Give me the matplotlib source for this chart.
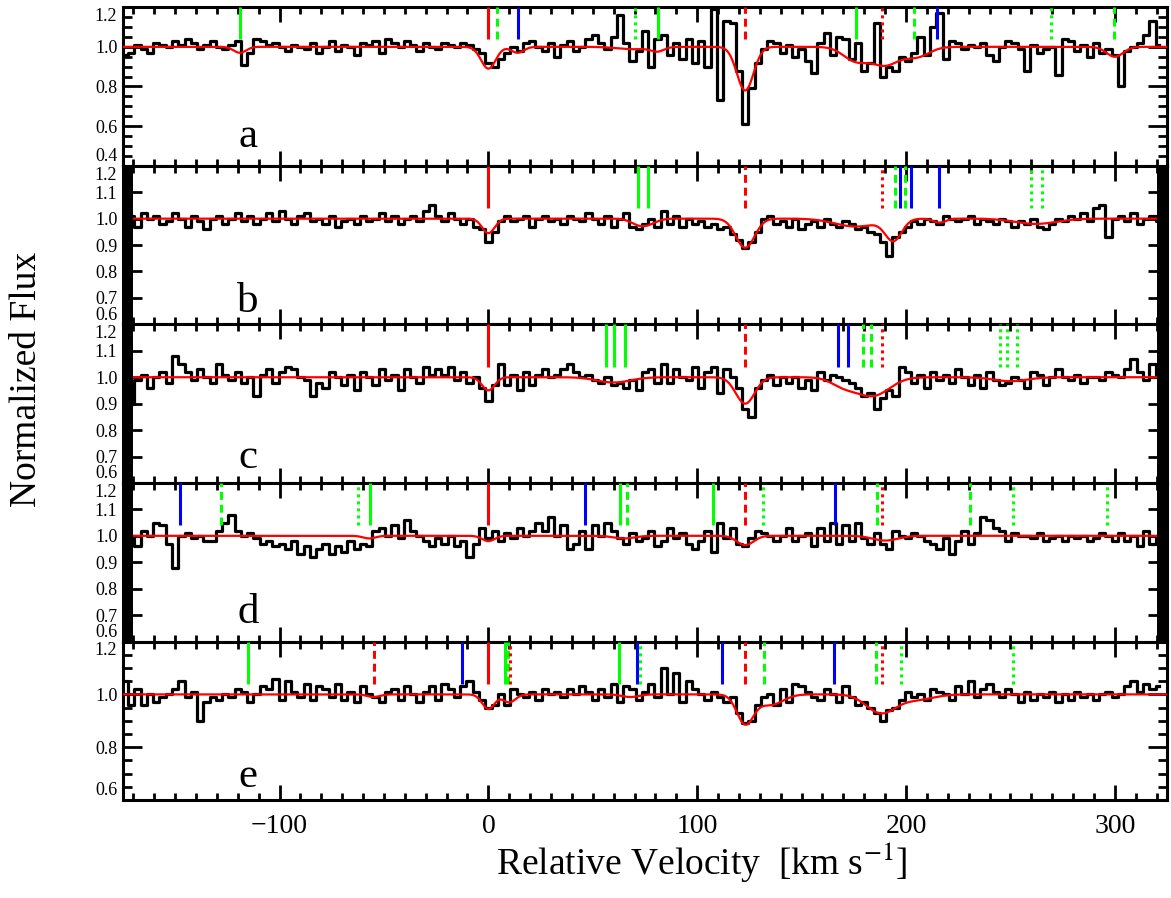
import numpy
from matplotlib import pyplot
from matplotlib.patches import Rectangle
from matplotlib.ticker import MultipleLocator
from matplotlib.transforms import ScaledTranslation


pyplot.rcParams['font.family'] = ['Liberation Serif', 'DejaVu Serif']
pyplot.rcParams['mathtext.fontset'] = 'stix'

# velocity grid of the spectra (km/s), one flux value per pixel
vel_start = -174.0
vel_step = 3.0

flux_a = [
    0.96, 0.97, 1.01, 0.99, 0.97, 1.02, 1.01, 1.00, 1.03, 1.01,
    1.04, 1.02, 0.99, 1.01, 1.03, 1.00, 0.99, 1.01, 1.03, 0.91,
    0.97, 1.04, 1.03, 1.01, 1.02, 1.00, 0.98, 1.01, 1.00, 0.99,
    1.02, 0.97, 1.00, 1.03, 0.98, 1.01, 1.00, 0.96, 1.02, 1.01,
    1.03, 0.97, 1.04, 1.02, 1.00, 1.03, 1.01, 0.98, 1.02, 1.00,
    0.99, 1.02, 1.01, 1.00, 1.02, 1.01, 0.99, 0.97, 0.92, 0.90,
    0.94, 0.97, 1.00, 0.98, 1.02, 1.03, 1.00, 0.98, 1.02, 0.95,
    1.01, 1.03, 0.98, 1.00, 1.04, 1.06, 1.02, 0.99, 1.05, 1.16,
    1.02, 0.93, 0.98, 1.08, 0.90, 1.04, 1.06, 0.96, 1.02, 0.94,
    1.04, 0.92, 1.03, 0.90, 1.19, 0.73, 1.13, 1.12, 0.88, 0.61,
    0.79, 0.92, 0.99, 1.03, 1.02, 0.97, 1.01, 0.95, 0.99, 0.93,
    0.87, 1.02, 1.07, 0.96, 1.05, 1.04, 0.94, 1.02, 0.88, 0.92,
    1.12, 0.85, 0.90, 0.88, 0.95, 0.93, 0.97, 1.05, 0.96, 1.10,
    1.17, 0.94, 1.03, 1.02, 0.99, 1.01, 1.00, 1.02, 0.96, 0.93,
    1.00, 1.03, 1.02, 0.99, 0.88, 1.01, 0.97, 0.99, 1.00, 0.86,
    1.04, 1.03, 0.98, 1.01, 0.95, 1.02, 0.97, 0.99, 0.96, 0.80,
    0.98, 1.00, 1.02, 1.06, 1.13, 1.01,
]

flux_b = [
    0.99, 1.01, 0.97, 1.02, 1.00, 1.01, 0.98, 0.99, 1.02, 1.00,
    0.97, 1.01, 0.99, 0.96, 1.00, 1.01, 0.98, 1.00, 1.02, 0.99,
    1.01, 0.98, 1.00, 1.02, 0.99, 1.03, 1.00, 0.98, 1.01, 1.02,
    0.99, 1.00, 0.98, 1.01, 0.97, 0.99, 1.00, 0.98, 1.01, 0.99,
    1.00, 1.02, 0.99, 1.01, 0.98, 1.00, 1.01, 0.99, 1.03, 1.05,
    1.01, 0.99, 1.02, 1.00, 0.98, 1.00, 0.97, 0.96, 0.91, 0.95,
    0.99, 1.01, 0.99, 1.00, 1.01, 0.97, 1.00, 1.01, 0.99, 1.00,
    0.98, 1.01, 1.00, 0.99, 1.02, 1.00, 0.98, 1.01, 0.97, 1.00,
    1.02, 0.97, 0.96, 0.98, 1.00, 0.97, 1.03, 0.98, 1.01, 0.97,
    1.00, 0.98, 0.99, 0.97, 0.98, 0.96, 0.97, 0.94, 0.92, 0.89,
    0.91, 0.95, 1.00, 1.01, 0.98, 0.99, 0.97, 1.00, 0.96, 0.98,
    0.99, 0.97, 1.00, 0.98, 0.97, 0.99, 0.98, 0.96, 0.97, 0.95,
    0.94, 0.91, 0.86, 0.93, 0.95, 0.97, 0.99, 0.98, 1.00, 0.99,
    0.98, 1.01, 1.00, 0.99, 1.00, 1.01, 0.98, 1.00, 0.99, 0.98,
    1.00, 0.99, 0.97, 0.99, 0.98, 1.00, 0.97, 0.96, 0.98, 1.00,
    0.99, 1.01, 1.00, 1.02, 0.99, 1.04, 1.05, 0.93, 1.00, 1.01,
    0.99, 1.02, 0.98, 1.00, 1.01, 0.99,
]

flux_c = [
    1.06, 0.90, 0.99, 1.01, 0.96, 1.00, 1.02, 0.98, 1.08, 1.05,
    1.02, 0.99, 1.03, 1.00, 0.98, 1.05, 1.01, 0.99, 1.02, 0.98,
    1.00, 0.93, 1.01, 1.03, 0.98, 1.02, 1.04, 1.03, 1.00, 0.99,
    0.93, 0.98, 0.96, 1.02, 1.00, 0.97, 1.01, 0.95, 1.02, 1.00,
    0.97, 1.03, 0.99, 1.01, 0.95, 1.03, 1.00, 0.98, 1.04, 1.01,
    1.03, 1.01, 1.04, 0.99, 1.02, 0.98, 1.00, 0.96, 0.91, 0.97,
    1.05, 0.97, 1.01, 0.95, 1.02, 0.97, 1.01, 1.03, 1.00, 1.01,
    1.03, 1.05, 1.02, 1.00, 1.01, 0.99, 0.98, 1.00, 0.97, 0.98,
    0.96, 0.99, 0.95, 1.02, 1.03, 0.98, 1.05, 0.98, 1.03, 1.00,
    0.99, 1.04, 0.96, 1.02, 1.04, 0.94, 1.03, 1.00, 0.96, 0.88,
    0.85, 0.96, 0.99, 1.01, 0.97, 1.00, 0.98, 1.00, 0.96, 0.99,
    0.95, 1.02, 0.99, 1.01, 1.00, 0.99, 0.98, 0.96, 0.93, 0.94,
    0.88, 0.92, 0.95, 0.93, 1.04, 1.02, 0.98, 1.01, 0.96, 1.02,
    0.99, 1.01, 0.98, 1.03, 1.00, 0.97, 1.01, 0.96, 1.02, 0.99,
    0.97, 0.98, 1.00, 0.99, 0.96, 1.02, 1.01, 0.97, 1.00, 1.03,
    1.00, 0.99, 1.01, 0.98, 1.00, 1.00, 0.99, 1.02, 1.01, 1.00,
    1.03, 1.07, 1.02, 0.99, 1.05, 1.00,
]

flux_d = [
    0.98, 1.00, 0.96, 1.02, 1.00, 1.05, 1.04, 0.97, 0.88, 1.00,
    1.01, 0.99, 1.00, 0.98, 0.98, 1.02, 1.05, 1.08, 1.02, 1.00,
    1.01, 0.99, 0.97, 0.98, 0.96, 0.97, 0.95, 0.98, 0.93, 0.96,
    0.92, 0.95, 0.97, 0.93, 0.96, 0.94, 0.98, 0.95, 0.97, 0.96,
    1.02, 1.03, 1.00, 1.04, 0.99, 1.06, 1.02, 1.00, 0.98, 0.96,
    0.99, 0.97, 1.00, 0.96, 0.98, 0.92, 0.97, 1.03, 0.99, 1.02,
    0.98, 1.01, 0.99, 1.03, 1.00, 1.02, 1.05, 1.02, 1.07, 1.00,
    1.04, 0.95, 0.97, 1.02, 0.95, 1.04, 1.00, 1.05, 1.02, 0.99,
    0.97, 1.01, 0.98, 0.99, 1.02, 0.96, 0.98, 1.03, 0.99, 1.01,
    0.97, 0.95, 0.98, 1.02, 0.94, 1.05, 0.99, 1.03, 0.97, 0.96,
    0.99, 1.02, 1.01, 1.00, 0.98, 1.00, 1.03, 0.98, 1.00, 1.01,
    0.96, 1.03, 0.98, 1.05, 0.97, 1.04, 0.98, 1.05, 0.99, 0.97,
    1.01, 0.97, 0.95, 1.02, 1.00, 0.99, 1.01, 1.00, 0.98, 0.97,
    0.95, 0.99, 0.93, 0.98, 1.02, 0.97, 1.01, 1.07, 1.06, 1.03,
    1.02, 0.98, 1.01, 1.00, 1.00, 0.99, 1.01, 0.98, 0.99, 1.00,
    0.98, 1.00, 0.99, 1.00, 0.98, 0.99, 1.01, 1.00, 0.98, 1.01,
    0.98, 1.00, 0.96, 1.02, 0.97, 1.00,
]

flux_e = [
    1.05, 0.96, 1.02, 0.96, 1.00, 0.97, 0.99, 1.00, 1.02, 1.05,
    0.99, 1.01, 0.90, 0.97, 0.99, 0.98, 1.00, 0.99, 1.02, 1.01,
    0.97, 1.00, 1.03, 1.02, 1.06, 0.98, 1.05, 1.01, 0.99, 1.04,
    0.98, 1.03, 1.02, 0.99, 1.04, 0.98, 1.01, 0.97, 1.03, 1.00,
    0.99, 0.97, 1.01, 1.02, 0.98, 1.03, 1.00, 0.97, 1.01, 1.03,
    0.98, 1.04, 1.02, 0.99, 1.03, 1.05, 1.01, 0.98, 0.95, 0.96,
    1.00, 0.96, 1.02, 1.00, 0.99, 1.01, 0.98, 1.02, 1.00, 1.01,
    0.99, 1.02, 1.00, 1.03, 1.01, 0.98, 1.02, 0.99, 1.04, 0.97,
    1.03, 1.02, 0.98, 1.01, 1.04, 0.99, 1.10, 1.00, 1.08, 0.97,
    1.05, 1.02, 1.00, 0.98, 1.01, 0.99, 0.97, 0.99, 0.93, 0.89,
    0.90, 0.96, 0.99, 1.00, 0.96, 1.02, 0.97, 1.04, 1.03, 1.01,
    0.99, 0.98, 1.02, 1.00, 0.97, 1.03, 0.99, 0.96, 0.97, 0.95,
    0.93, 0.90, 0.94, 0.95, 0.98, 1.01, 0.99, 1.00, 0.98, 1.02,
    1.01, 1.00, 0.98, 1.03, 1.00, 1.05, 0.99, 1.02, 1.04, 1.01,
    0.99, 1.02, 1.00, 0.97, 1.01, 0.98, 1.00, 0.99, 1.01, 0.97,
    1.00, 0.98, 1.01, 0.99, 1.00, 0.98, 1.00, 1.01, 0.99, 1.00,
    1.03, 1.05, 1.01, 1.04, 1.02, 1.03,
]

# fitted absorption components: (velocity, depth, width) in km/s
comps_a = [(-119, 0.03, 3), (0, 0.11, 3.5), (14, 0.03, 3), (70, 0.012, 8),
           (81, 0.02, 3), (123, 0.22, 4), (176, 0.07, 6), (190, 0.09, 6.5),
           (205, 0.05, 6), (300, 0.05, 4)]
comps_b = [(0, 0.055, 3), (72, 0.02, 4), (77, 0.015, 4), (123, 0.11, 4.5),
           (176, 0.03, 10), (194, 0.08, 4), (216, 0.015, 3), (262, 0.02, 10)]
comps_c = [(0, 0.05, 3), (60, 0.02, 8), (123, 0.10, 4.5), (170, 0.03, 6),
           (184, 0.07, 8), (250, 0.015, 8)]
comps_d = [(-57, 0.01, 3), (0, 0.02, 3), (65, 0.01, 5), (123, 0.035, 4),
           (190, 0.018, 6)]
comps_e = [(-55, 0.01, 3), (0, 0.055, 3), (10, 0.03, 3), (68, 0.01, 4),
           (123, 0.11, 4), (135, 0.04, 6), (188, 0.07, 7), (205, 0.02, 8)]

# line identification marks: (velocity, colour, style)
marks_a = [(-119, 'g', '-'), (0, 'r', '-'), (4, 'g', '--'), (14, 'b', '-'),
           (70, 'g', ':'), (81, 'g', '-'), (123, 'r', '--'), (176, 'g', '-'),
           (188.6, 'r', ':'), (204, 'g', '--'), (214.8, 'b', '-'),
           (269.5, 'g', ':'), (299.4, 'g', '--')]
marks_b = [(0, 'r', '-'), (71.6, 'g', '-'), (76.3, 'g', '-'), (123, 'r', '--'),
           (188.6, 'r', ':'), (194.6, 'g', '--'), (197, 'b', '-'),
           (199.7, 'g', '--'), (202.2, 'b', '-'), (216, 'b', '-'),
           (260, 'g', ':'), (264.9, 'g', ':')]
marks_c = [(0, 'r', '-'), (56.5, 'g', '-'), (60.2, 'g', '-'), (65.5, 'g', '-'),
           (123, 'r', '--'), (167.3, 'b', '-'), (172.1, 'b', '-'),
           (179.5, 'g', '--'), (183, 'g', '--'), (188.6, 'r', ':'),
           (244.9, 'g', ':'), (248.6, 'g', ':'), (253.3, 'g', ':')]
marks_d = [(-147.8, 'b', '-'), (-128, 'g', '--'), (-62.5, 'g', ':'),
           (-56.5, 'g', '-'), (0, 'r', '-'), (46.2, 'b', '-'), (62.9, 'g', '-'),
           (66.5, 'g', '--'), (107.8, 'g', '-'), (123, 'r', '--'),
           (131.6, 'g', ':'), (166, 'b', '-'), (185.9, 'g', '--'),
           (188.6, 'r', ':'), (230.8, 'g', '--'), (251.3, 'g', ':'),
           (296.2, 'g', ':')]
marks_e = [(-115.2, 'g', '-'), (-54.9, 'r', '--'), (-12.5, 'b', '-'),
           (0, 'r', '-'), (8, 'g', '-'), (9.5, 'g', '--'), (10.5, 'r', ':'),
           (62.5, 'g', '-'), (71.3, 'b', '-'), (72.7, 'g', ':'),
           (111.7, 'b', '-'), (123, 'r', '--'), (132.2, 'g', '--'),
           (165.7, 'b', '-'), (185.6, 'g', '--'), (188.7, 'r', ':'),
           (197.8, 'g', ':'), (251.3, 'g', ':')]

panel_labels = ['a', 'b', 'c', 'd', 'e']
label_y = [0.12, 0.078, 0.094, 0.12, 0.084]
yticks = [
    [0.4, 0.6, 0.8, 1.0, 1.2],
    [0.6, 0.7, 0.8, 0.9, 1.0, 1.1, 1.2],
    [0.6, 0.7, 0.8, 0.9, 1.0, 1.1, 1.2],
    [0.6, 0.7, 0.8, 0.9, 1.0, 1.1, 1.2],
    [0.6, 0.8, 1.0, 1.2],
]
yminor = [0.05, None, None, None, 0.05]
edge_bars = [False, True, True, True, False]

COLORS = {'r': '#ff0000', 'g': '#00ff00', 'b': '#0000ff'}
STYLES = {'-': '-', '--': (0, (2.6, 1.6)), ':': (0, (1.0, 1.3))}


def _model(vgrid, comps):
    model = numpy.ones_like(vgrid)
    for v0, depth, width in comps:
        model *= 1 - depth * numpy.exp(-0.5 * ((vgrid - v0) / width) ** 2)
    return model


fig, axes = pyplot.subplots(nrows=5, ncols=1, sharex=True,
                            figsize=(11.71, 8.98), dpi=100)
fig.subplots_adjust(left=0.105, right=0.9966, top=0.992, bottom=0.109,
                    hspace=0)

all_flux = [flux_a, flux_b, flux_c, flux_d, flux_e]
all_comps = [comps_a, comps_b, comps_c, comps_d, comps_e]
all_marks = [marks_a, marks_b, marks_c, marks_d, marks_e]
vfine = numpy.linspace(-175, 325, 2001)

for n, ax in enumerate(axes):
    flux = numpy.array(all_flux[n])
    vel = vel_start + vel_step * numpy.arange(flux.shape[0])
    ax.step(vel, flux, where='mid', color='k', linewidth=2.3, zorder=2)
    ax.plot(vfine, _model(vfine, all_comps[n]), color='#ff0000',
            linewidth=1.6, zorder=3)

    for v0, c, ls in all_marks[n]:
        ax.plot([v0, v0], [1.04, 1.2], color=COLORS[c], linestyle=STYLES[ls],
                linewidth=2.2, solid_capstyle='butt', dash_capstyle='butt',
                zorder=4)

    if edge_bars[n]:
        for x0 in (0.0, 1 - 0.0096):
            ax.add_patch(Rectangle((x0, 0), 0.0096, 1, transform=ax.transAxes,
                                   facecolor='k', edgecolor='none', zorder=5))

    ax.set_xlim(-175, 325)
    ax.set_ylim(yticks[n][0], yticks[n][-1])
    ax.set_yticks(yticks[n])
    ax.set_yticklabels(['%.1f' % t for t in yticks[n]])
    if yminor[n] is not None:
        ax.yaxis.set_minor_locator(MultipleLocator(yminor[n]))
    ax.xaxis.set_major_locator(MultipleLocator(100))
    ax.xaxis.set_minor_locator(MultipleLocator(10))

    ax.tick_params(axis='both', which='both', direction='in', top=True,
                   right=True, width=2)
    ax.tick_params(axis='x', which='major', length=11, labelsize=20, pad=10)
    ax.tick_params(axis='x', which='minor', length=5)
    ax.tick_params(axis='y', which='major', length=14, labelsize=13, pad=4)
    ax.tick_params(axis='y', which='minor', length=6.5)
    for spine in ax.spines.values():
        spine.set_linewidth(2.2)

    # keep the end labels inside the panel, as the original plot does
    yt = ax.yaxis.get_major_ticks()
    lo, hi = yt[0].label1, yt[-1].label1
    lo.set_verticalalignment('bottom')
    lo.set_transform(lo.get_transform()
                     + ScaledTranslation(0, 0.6 / 72, fig.dpi_scale_trans))
    hi.set_verticalalignment('top')
    hi.set_transform(hi.get_transform()
                     + ScaledTranslation(0, -0.6 / 72, fig.dpi_scale_trans))

    ax.text(0.12, label_y[n], panel_labels[n], transform=ax.transAxes,
            ha='center', va='baseline', fontsize=31)

fig.text(0.599, 0.026, r'Relative Velocity  [km s$^{-1}$]', ha='center',
         va='baseline', fontsize=27)
fig.text(0.023, 0.577, 'Normalized Flux', rotation=90, ha='center',
         va='center', fontsize=27)

fig.savefig('out.png', dpi=100)
